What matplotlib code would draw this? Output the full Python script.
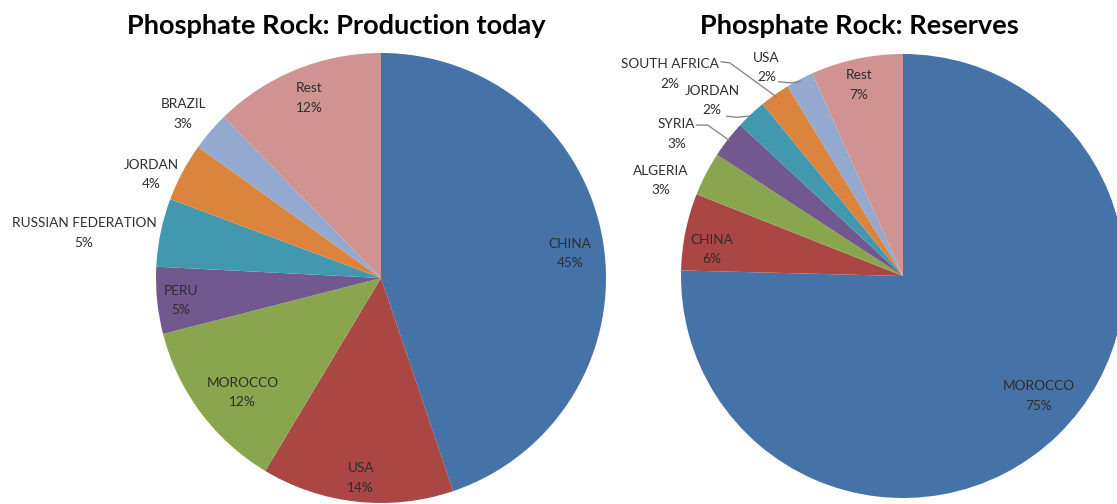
import matplotlib
matplotlib.use("Agg")
import matplotlib.pyplot as plt
import numpy as np

# ---- data ----
prod_labels = ["CHINA", "USA", "MOROCCO", "PERU", "RUSSIAN FEDERATION", "JORDAN", "BRAZIL", "Rest"]
prod_values = [44.8, 13.8, 12.4, 4.8, 4.9, 4.2, 2.8, 12.3]

res_labels = ["MOROCCO", "CHINA", "ALGERIA", "SYRIA", "JORDAN", "SOUTH AFRICA", "USA", "Rest"]
res_values = [75.4, 5.6, 3.2, 2.7, 2.2, 2.2, 2.0, 6.7]

titles = ["Phosphate Rock: Production today", "Phosphate Rock: Reserves"]

colors = ["#4572A7", "#AA4643", "#89A54E", "#71588F", "#4198AF", "#DB843D", "#93A9CF", "#D19392"]

# ---- layout (label positions in pie-radius units) ----
prod_label_pos = [(0.84, 0.11), (-0.09, -0.89), (-0.615, -0.51), (-0.89, -0.10),
                  (-1.32, 0.20), (-1.02, 0.46), (-0.88, 0.73), (-0.32, 0.80)]
res_label_pos = [(0.61, -0.54), (-0.86, 0.12), (-1.09, 0.43), (-1.02, 0.64),
                 (-0.86, 0.79), (-1.05, 0.91), (-0.615, 0.94), (-0.20, 0.86)]
# leader lines: (start text-side point, elbow point), end at wedge edge
res_leaders = {3: [(-0.93, 0.68), (-0.88, 0.68)],
               4: [(-0.795, 0.72), (-0.75, 0.715)],
               5: [(-0.82, 0.965), (-0.78, 0.96)],
               6: [(-0.56, 0.875), (-0.505, 0.87)]}

W, H = 1117, 504
fig = plt.figure(figsize=(W / 100, H / 100), dpi=100)
font = "Lato"
txtcol = "#2e2e2e"


def make_pie(cx, cy, R, values, labels, label_pos, leaders):
    ax = fig.add_axes([(cx - R) / W, (H - cy - R) / H, 2 * R / W, 2 * R / H])
    wedges, _ = ax.pie(values, colors=colors, startangle=90, counterclock=False,
                       radius=1.0, wedgeprops=dict(linewidth=0))
    ax.set_xlim(-1, 1)
    ax.set_ylim(-1, 1)
    ax.set_aspect("equal")
    ax.axis("off")
    total = sum(values)
    for i, (lab, v) in enumerate(zip(labels, values)):
        x, y = label_pos[i]
        ax.text(x, y, f"{lab}\n{int(round(100 * v / total))}%", ha="center", va="center",
                fontsize=9.8, family=font, color=txtcol, linespacing=1.75, clip_on=False)
        if i in leaders:
            w = wedges[i]
            mid = np.deg2rad((w.theta1 + w.theta2) / 2)
            ex, ey = 0.99 * np.cos(mid), 0.99 * np.sin(mid)
            pts = leaders[i] + [(ex, ey)]
            ax.plot([p[0] for p in pts], [p[1] for p in pts], color="#808080", lw=0.9,
                    clip_on=False)
    return ax


make_pie(381, 278, 225, prod_values, prod_labels, prod_label_pos, {})
make_pie(903, 276, 222, res_values, res_labels, res_label_pos, res_leaders)

fig.text(336 / W, 1 - 26 / H, titles[0], ha="center", va="center", fontsize=19.5,
         fontweight="bold", family=font, color="black")
fig.text(859 / W, 1 - 26 / H, titles[1], ha="center", va="center", fontsize=19.5,
         fontweight="bold", family=font, color="black")

fig.savefig("out.png", dpi=100, facecolor="white")
